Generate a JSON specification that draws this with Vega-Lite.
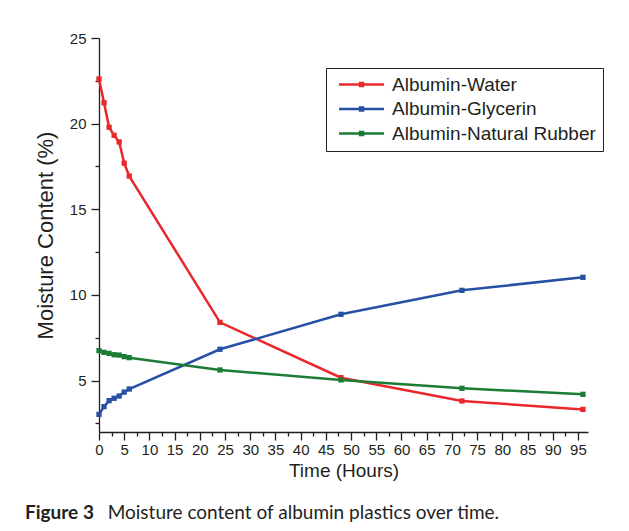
{
  "$schema": "https://vega.github.io/schema/vega-lite/v6.json",
  "width": 489,
  "height": 394,
  "autosize": {"type": "none"},
  "padding": {"left": 99, "top": 38, "right": 41, "bottom": 99},
  "background": "white",
  "title": {
    "text": "Figure 3",
    "subtitle": "\u200b\u00a0\u00a0\u00a0\u00a0\u00a0\u00a0\u00a0\u00a0\u00a0\u00a0\u00a0\u00a0\u00a0\u00a0\u00a0\u00a0\u00a0Moisture content of albumin plastics over time.",
    "orient": "bottom",
    "anchor": "start",
    "frame": "group",
    "dx": -74,
    "offset": 24,
    "font": "Lato",
    "fontSize": 19,
    "fontWeight": "bold",
    "color": "#231f20",
    "subtitleFont": "Lato",
    "subtitleFontSize": 19,
    "subtitleFontWeight": "normal",
    "subtitleColor": "#231f20",
    "subtitlePadding": -19
  },
  "data": {
    "values": [
      {"series": "Albumin-Water", "time": 0, "value": 22.61},
      {"series": "Albumin-Water", "time": 1, "value": 21.22},
      {"series": "Albumin-Water", "time": 2, "value": 19.79},
      {"series": "Albumin-Water", "time": 3, "value": 19.32},
      {"series": "Albumin-Water", "time": 4, "value": 18.93},
      {"series": "Albumin-Water", "time": 5, "value": 17.69},
      {"series": "Albumin-Water", "time": 6, "value": 16.94},
      {"series": "Albumin-Water", "time": 24, "value": 8.40},
      {"series": "Albumin-Water", "time": 48, "value": 5.17},
      {"series": "Albumin-Water", "time": 72, "value": 3.81},
      {"series": "Albumin-Water", "time": 96, "value": 3.32},
      {"series": "Albumin-Glycerin", "time": 0, "value": 3.03},
      {"series": "Albumin-Glycerin", "time": 1, "value": 3.48},
      {"series": "Albumin-Glycerin", "time": 2, "value": 3.83},
      {"series": "Albumin-Glycerin", "time": 3, "value": 3.97},
      {"series": "Albumin-Glycerin", "time": 4, "value": 4.10},
      {"series": "Albumin-Glycerin", "time": 5, "value": 4.33},
      {"series": "Albumin-Glycerin", "time": 6, "value": 4.51},
      {"series": "Albumin-Glycerin", "time": 24, "value": 6.83},
      {"series": "Albumin-Glycerin", "time": 48, "value": 8.87},
      {"series": "Albumin-Glycerin", "time": 72, "value": 10.27},
      {"series": "Albumin-Glycerin", "time": 96, "value": 11.03},
      {"series": "Albumin-Natural Rubber", "time": 0, "value": 6.75},
      {"series": "Albumin-Natural Rubber", "time": 1, "value": 6.65},
      {"series": "Albumin-Natural Rubber", "time": 2, "value": 6.59},
      {"series": "Albumin-Natural Rubber", "time": 3, "value": 6.51},
      {"series": "Albumin-Natural Rubber", "time": 4, "value": 6.49},
      {"series": "Albumin-Natural Rubber", "time": 5, "value": 6.40},
      {"series": "Albumin-Natural Rubber", "time": 6, "value": 6.34},
      {"series": "Albumin-Natural Rubber", "time": 24, "value": 5.62},
      {"series": "Albumin-Natural Rubber", "time": 48, "value": 5.04},
      {"series": "Albumin-Natural Rubber", "time": 72, "value": 4.55},
      {"series": "Albumin-Natural Rubber", "time": 96, "value": 4.20}
    ]
  },
  "mark": {
    "type": "line",
    "strokeWidth": 2.5,
    "point": {"shape": "square", "filled": true, "size": 28, "opacity": 1}
  },
  "encoding": {
    "x": {
      "field": "time",
      "type": "quantitative",
      "scale": {"domain": [0, 97], "nice": false, "zero": false},
      "axis": {
        "title": "Time (Hours)",
        "values": [0, 2.5, 5, 7.5, 10, 12.5, 15, 17.5, 20, 22.5, 25, 27.5, 30, 32.5, 35, 37.5, 40, 42.5, 45, 47.5, 50, 52.5, 55, 57.5, 60, 62.5, 65, 67.5, 70, 72.5, 75, 77.5, 80, 82.5, 85, 87.5, 90, 92.5, 95],
        "labelExpr": "datum.value % 5 === 0 ? datum.label : ''",
        "tickSize": {"condition": {"test": "datum.value % 5 === 0", "value": 8}, "value": 4},
        "labelPadding": 2,
        "labelOverlap": false,
        "labelFlush": false,
        "labelBound": false,
        "titleFontSize": 19,
        "titlePadding": 4
      }
    },
    "y": {
      "field": "value",
      "type": "quantitative",
      "scale": {"domain": [2, 25], "nice": false, "zero": false},
      "axis": {
        "title": "Moisture Content (%)",
        "values": [2.5, 5, 7.5, 10, 12.5, 15, 17.5, 20, 22.5, 25],
        "labelExpr": "datum.value % 5 === 0 ? datum.label : ''",
        "tickSize": {"condition": {"test": "datum.value % 5 === 0", "value": 8}, "value": 4},
        "labelPadding": 5,
        "labelOverlap": false,
        "labelFlush": false,
        "labelBound": false,
        "titleFontSize": 22,
        "titlePadding": 12
      }
    },
    "color": {
      "field": "series",
      "type": "nominal",
      "scale": {
        "domain": ["Albumin-Water", "Albumin-Glycerin", "Albumin-Natural Rubber"],
        "range": ["#e9282c", "#2750a4", "#1c7c36"]
      },
      "legend": {
        "title": null,
        "orient": "none",
        "legendX": 227,
        "legendY": 30,
        "strokeColor": "#222222",
        "fillColor": "white",
        "padding": 7,
        "symbolType": "M-3,0H3M-0.2,-0.2H0.2V0.2H-0.2Z",
        "symbolSize": 225,
        "symbolStrokeWidth": 2.5,
        "symbolOffset": 19,
        "labelOffset": 21,
        "labelFontSize": 19,
        "labelFont": "Liberation Sans",
        "labelColor": "#231f20",
        "rowPadding": 4.5,
        "labelLimit": 400
      }
    }
  },
  "config": {
    "view": {"stroke": null},
    "font": "Liberation Sans",
    "axis": {
      "grid": false,
      "domainColor": "#231f20",
      "domainWidth": 1.3,
      "tickColor": "#231f20",
      "tickWidth": 1.3,
      "labelFont": "Liberation Sans",
      "labelFontSize": 15,
      "labelColor": "#231f20",
      "titleFont": "Liberation Sans",
      "titleFontWeight": "normal",
      "titleColor": "#231f20"
    }
  }
}
